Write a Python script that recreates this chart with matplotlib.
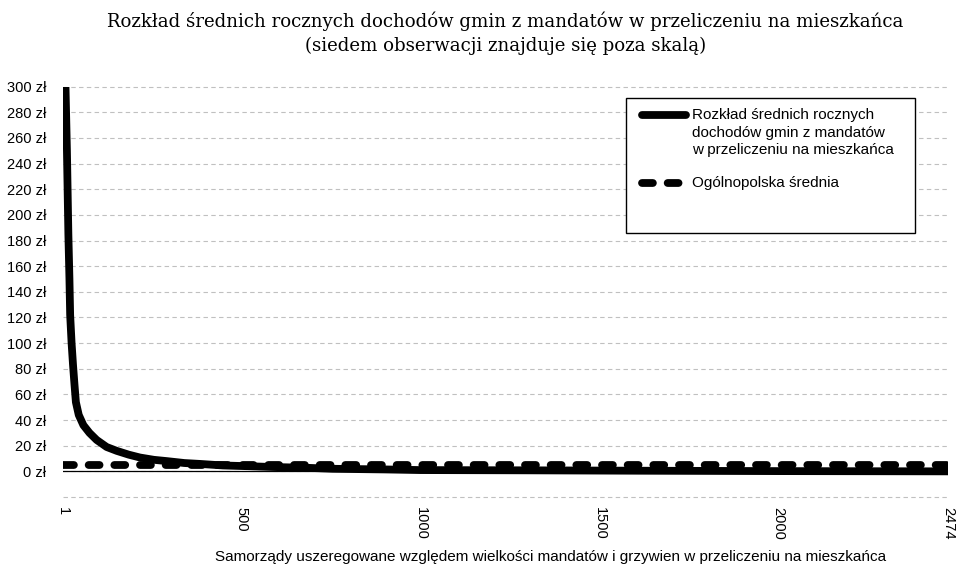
"""Rozkład średnich rocznych dochodów gmin z mandatów (wykres liniowy)."""

import matplotlib

matplotlib.use("Agg")
import matplotlib.pyplot as plt
from matplotlib.lines import Line2D
from matplotlib.patches import Rectangle

# ranga gminy (posortowane malejąco) i średni roczny dochód z mandatów na mieszkańca (zł)
ranks = [1, 7, 8, 12, 16, 19, 21, 25, 29, 33, 37, 45, 58, 75, 95, 123, 151, 185,
         216, 255, 291, 340, 384, 448, 520, 587, 680, 755, 900, 1000, 1300, 1610,
         2000, 2474]
values = [1500, 310, 300, 250, 185, 150, 122, 100, 83, 68, 54, 44, 36, 30, 24.5, 19,
          16, 13, 10.8, 9, 8, 6.5, 5.8, 4.6, 4, 3.4, 2.8, 2.0, 1.5, 1.0,
          0.8, 0.5, 0.2, 0.0]
national_mean = 5.1

x_ticks = [1, 500, 1000, 1500, 2000, 2474]
y_ticks = list(range(0, 301, 20))
y_grid = list(range(-20, 301, 20))

series_label = "Rozkład średnich rocznych\ndochodów gmin z mandatów\nw przeliczeniu na mieszkańca"
mean_label = "Ogólnopolska średnia"
title = ("Rozkład średnich rocznych dochodów gmin z mandatów w przeliczeniu na mieszkańca\n"
         "(siedem obserwacji znajduje się poza skalą)")
x_label = "Samorządy uszeregowane względem wielkości mandatów i grzywien w przeliczeniu na mieszkańca"

sans = ["Liberation Sans", "DejaVu Sans"]
serif = ["DejaVu Serif"]
W, H = 956, 565
LW = 5.6
DASH = (1.4, 1.9)


def fx(px):
    return px / W


def fy(py):
    return 1 - py / H


fig = plt.figure(figsize=(W / 100, H / 100), dpi=100)
ax = fig.add_axes([fx(63), fy(497), (948 - 63) / W, (497 - 86.7) / H])

for g in y_grid:
    ax.axhline(g, color="#c0c0c0", lw=0.8, dashes=(4, 3), zorder=1, clip_on=False)
ax.axhline(0, color="black", lw=0.9, zorder=2)

ax.plot(ranks, values, color="black", lw=LW,
        solid_capstyle="butt", solid_joinstyle="round", zorder=4)
ax.plot([x_ticks[0], x_ticks[-1]], [national_mean, national_mean],
        color="black", lw=LW, dashes=DASH, dash_capstyle="round", zorder=3)

ax.set_xlim(x_ticks[0], x_ticks[-1])
ax.set_ylim(-20, 300)
ax.set_yticks(y_ticks)
ax.set_yticklabels([f"{v} zł" for v in y_ticks], fontfamily=sans, fontsize=10.5)
ax.set_xticks(x_ticks)
ax.set_xticklabels([str(v) for v in x_ticks], fontfamily=sans, fontsize=10.5,
                   rotation=270, va="top", ha="center")
ax.tick_params(axis="both", length=0)
ax.tick_params(axis="y", pad=12)
ax.tick_params(axis="x", pad=7)
for s in ax.spines.values():
    s.set_visible(False)

fig.text(fx(505.5), fy(33), title, ha="center", va="center",
         fontfamily=serif, fontsize=13.1, linespacing=1.4)
fig.text(fx(551), fy(557), x_label, ha="center", va="center",
         fontfamily=sans, fontsize=11)

# legenda
fig.patches.append(Rectangle((fx(626), fy(233)), (915 - 626) / W, (233 - 98) / H,
                             transform=fig.transFigure, facecolor="white",
                             edgecolor="black", lw=1, zorder=5))
fig.add_artist(Line2D([fx(642), fx(686)], [fy(115), fy(115)], color="black",
                      lw=LW, solid_capstyle="round", zorder=6))
fig.add_artist(Line2D([fx(642), fx(686)], [fy(183), fy(183)], color="black",
                      lw=LW, dashes=DASH, dash_capstyle="round", zorder=6))
fig.text(fx(692), fy(108), series_label, ha="left", va="top", fontfamily=sans,
         fontsize=11, linespacing=1.32, zorder=6)
fig.text(fx(692), fy(183), mean_label, ha="left", va="center", fontfamily=sans,
         fontsize=11, zorder=6)

fig.savefig("out.png", dpi=100)
